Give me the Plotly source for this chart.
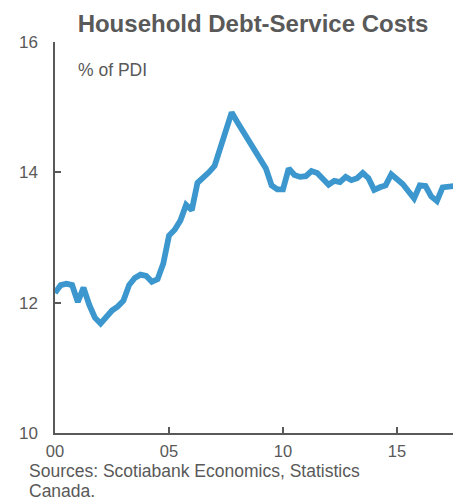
import plotly.graph_objects as go

# Quarterly data, 2000Q1 onwards
start_year = 2000
dsr_values = [
    12.15, 12.27, 12.29, 12.27,   # 2000
    12.01, 12.23, 11.97, 11.77,   # 2001
    11.68, 11.78, 11.88, 11.94,   # 2002
    12.03, 12.27, 12.38, 12.43,   # 2003
    12.41, 12.32, 12.36, 12.60,   # 2004
    13.03, 13.12, 13.26, 13.50,   # 2005
    13.42, 13.84, 13.91, 14.00,   # 2006
    14.10, 14.38, 14.68, 14.92,   # 2007
    14.77, 14.63, 14.46, 14.34,   # 2008
    14.17, 14.06, 13.80, 13.74,   # 2009
    13.74, 14.06, 13.96, 13.93,   # 2010
    13.94, 14.02, 13.99, 13.91,   # 2011
    13.81, 13.87, 13.85, 13.93,   # 2012
    13.88, 13.91, 13.99, 13.91,   # 2013
    13.73, 13.77, 13.80, 13.97,   # 2014
    13.90, 13.82, 13.71, 13.60,   # 2015
    13.80, 13.79, 13.63, 13.56,   # 2016
    13.77, 13.79, 13.79,          # 2017
]
x_tick_vals = [2000, 2005, 2010, 2015]
x_tick_text = ["00", "05", "10", "15"]
y_tick_vals = [10, 12, 14, 16]
y_tick_text = ["10", "12", "14", "16"]
source_lines = ["Sources: Scotiabank Economics, Statistics", "Canada."]

x_vals = [start_year + i / 4 for i in range(len(dsr_values))]

GRAY = "#595959"
FONT = "Liberation Sans, Arial, sans-serif"

fig = go.Figure()
fig.add_trace(go.Scatter(
    x=x_vals, y=dsr_values, mode="lines",
    line=dict(color="#3b97cd", width=5.8),
    hoverinfo="skip",
))

annotations = [
    dict(text="% of PDI", xref="paper", yref="paper",
         x=(76 - 55) / 398, y=(433 - 70) / 391,
         xanchor="left", yanchor="middle", showarrow=False,
         font=dict(family=FONT, size=17.5, color=GRAY)),
]
for i, line in enumerate(source_lines):
    annotations.append(dict(
        text=line, xref="paper", yref="paper",
        x=(27 - 55) / 398, y=(433 - (471 + 20 * i)) / 391,
        xanchor="left", yanchor="middle", align="left", showarrow=False,
        font=dict(family=FONT, size=17.5, color=GRAY)))

fig.update_layout(
    width=453, height=502,
    margin=dict(l=55, r=0, t=42, b=69),
    plot_bgcolor="white", paper_bgcolor="white",
    showlegend=False,
    font=dict(family=FONT, color=GRAY),
    title=dict(
        text="<b>Household Debt-Service Costs</b>",
        font=dict(family=FONT, size=24, color=GRAY),
        xref="container", yref="container",
        x=253 / 453, y=1 - 23.5 / 502,
        xanchor="center", yanchor="middle",
    ),
    xaxis=dict(
        range=[2000, 2000 + 398 / 22.8],
        tickvals=x_tick_vals, ticktext=x_tick_text,
        ticks="inside", ticklen=6, tickwidth=1.5, tickcolor=GRAY,
        showline=True, linecolor=GRAY, linewidth=1.5,
        showgrid=False, zeroline=False,
        tickfont=dict(family=FONT, size=16.5, color=GRAY),
        ticklabelstandoff=2,
    ),
    yaxis=dict(
        range=[10, 16],
        tickvals=y_tick_vals, ticktext=y_tick_text,
        ticks="inside", ticklen=6, tickwidth=1.5, tickcolor=GRAY,
        showline=True, linecolor=GRAY, linewidth=1.5,
        showgrid=False, zeroline=False,
        tickfont=dict(family=FONT, size=17, color=GRAY),
        ticklabelstandoff=12,
    ),
    annotations=annotations,
)

fig.write_html("out.html")
